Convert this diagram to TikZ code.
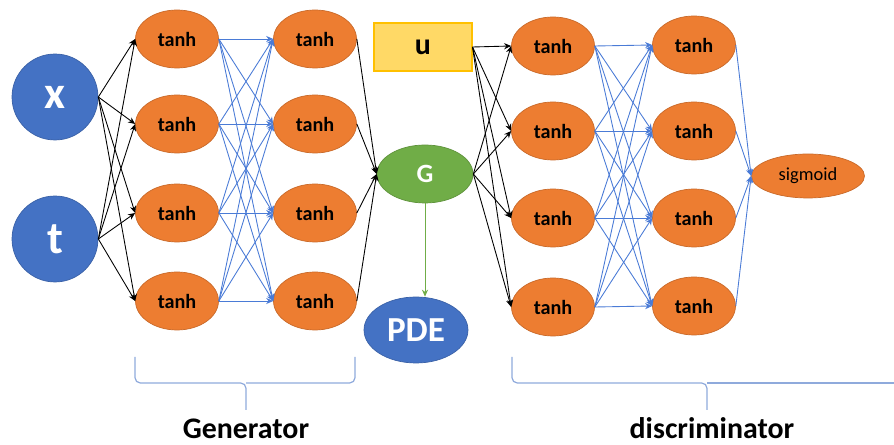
\documentclass[tikz,border=0pt]{standalone}
\usepackage{fontspec}
\setmainfont{Carlito}
\usepackage{tikz}
\usetikzlibrary{arrows.meta,shapes.geometric}
\usepackage{xcolor}
\definecolor{NeuronOrange}{HTML}{ED7D31}
\definecolor{InputBlue}{HTML}{4472C4}
\definecolor{LinkBlue}{HTML}{4A7BD6}
\definecolor{BraceBlue}{HTML}{8FAADC}
\definecolor{GenGreen}{HTML}{70AD47}
\definecolor{BoxYellow}{HTML}{FFD966}
\definecolor{BoxBorder}{HTML}{FFC000}

\begin{document}
\begin{tikzpicture}[x=0.02cm,y=-0.02cm,
    neuron/.style={ellipse,fill=NeuronOrange,draw=NeuronOrange!85!black,line width=0.4pt,
        minimum width=1.66cm,minimum height=1.16cm,inner sep=0pt,
        font=\bfseries\fontsize{11.5}{13}\selectfont},
    inputnode/.style={circle,fill=InputBlue,draw=InputBlue!85!black,line width=0.4pt,
        minimum size=1.72cm,inner sep=0pt,text=white,font=\bfseries\fontsize{26}{30}\selectfont},
    blackarrow/.style={-{Stealth[length=4pt,width=3.5pt]},line width=0.5pt,black},
    bluearrow/.style={-{Stealth[length=4pt,width=3.5pt]},line width=0.5pt,LinkBlue},
    bracestyle/.style={BraceBlue,line width=0.7pt,rounded corners=3pt},
    grouplabel/.style={anchor=base,inner sep=0pt,font=\bfseries\fontsize{17}{20}\selectfont}]
    \useasboundingbox (0,0) rectangle (894,445);

    \node[inputnode] (x) at (55,97) {x};
    \node[inputnode] (t) at (55,239) {t};

    \foreach \i/\y in {1/39,2/124,3/213,4/301} {
        \node[neuron] (g\i) at (177,\y) {tanh};
        \node[neuron] (h\i) at (315,\y) {tanh};
    }
    \foreach \i/\y/\z in {1/46/45,2/131/131,3/218/218,4/307/306} {
        \node[neuron] (d\i) at (553,\y) {tanh};
        \node[neuron] (e\i) at (694,\z) {tanh};
    }

    \node[rectangle,fill=BoxYellow,draw=BoxBorder,line width=0.6pt,minimum width=1.96cm,
        minimum height=0.96cm,inner sep=0pt,font=\bfseries\fontsize{17}{20}\selectfont] (u) at (423,47) {u};
    \node[ellipse,fill=GenGreen,draw=GenGreen!85!black,line width=0.4pt,minimum width=1.92cm,
        minimum height=1.16cm,inner sep=0pt,text=white,font=\bfseries\fontsize{15}{18}\selectfont] (G) at (425,174) {G};
    \node[ellipse,fill=InputBlue,draw=InputBlue!85!black,line width=0.4pt,minimum width=2.08cm,
        minimum height=1.32cm,inner sep=0pt,text=white,font=\bfseries\fontsize{20}{24}\selectfont] (pde) at (416,330) {PDE};
    \node[ellipse,fill=NeuronOrange,draw=NeuronOrange!85!black,line width=0.4pt,minimum width=2.26cm,
        minimum height=0.88cm,inner sep=0pt,font=\fontsize{10.5}{12}\selectfont] (sig) at (808,176) {sigmoid};

    \foreach \i in {1,...,4} {
        \draw[blackarrow] (x.east) -- (g\i.west);
        \draw[blackarrow] (t.east) -- (g\i.west);
        \draw[blackarrow] (h\i.east) -- (G.west);
        \draw[blackarrow] (u.east) -- (d\i.west);
        \draw[blackarrow] (G.east) -- (d\i.west);
        \draw[bluearrow] (e\i.east) -- (sig.west);
        \foreach \j in {1,...,4} {
            \draw[bluearrow] (g\i.east) -- (h\j.west);
            \draw[bluearrow] (d\i.east) -- (e\j.west);
        }
    }
    \draw[-{Stealth[length=4pt,width=3.5pt]},line width=0.5pt,GenGreen] (G.south) -- (G.south |- pde.north);

    \draw[bracestyle] (135,357) -- (135,383) -- (246,383) -- (246,410);
    \draw[bracestyle] (355,357) -- (355,383) -- (246,383);
    \node[grouplabel] (genlabel) at (246,439) {Generator};

    \draw[bracestyle] (512,357) -- (512,383) -- (707,383) -- (707,410);
    \draw[bracestyle] (894,383) -- (707,383);
    \node[grouplabel] (disclabel) at (712,439) {discriminator};
\end{tikzpicture}
\end{document}
